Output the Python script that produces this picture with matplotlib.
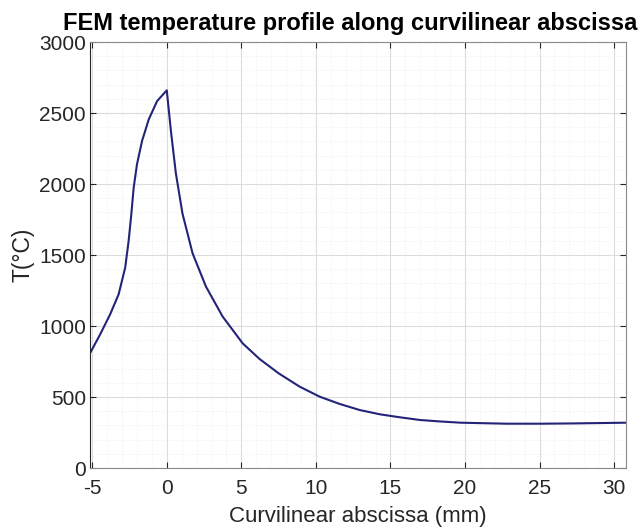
import numpy as np
import matplotlib
matplotlib.use("Agg")
import matplotlib.pyplot as plt
from matplotlib.ticker import MultipleLocator

# values
abscissa_mm = [-5.15, -4.47, -3.80, -3.23, -2.79, -2.56, -2.38, -2.22, -2.0, -1.66,
               -1.21, -0.65, 0.0, 0.27, 0.61, 1.05, 1.73, 2.63, 3.75, 5.09,
               6.22, 7.5, 8.91, 10.26, 11.6, 12.95, 14.3, 15.64, 16.99, 18.3,
               19.7, 20.6, 22.8, 25.1, 27.3, 30.8]
temperature_c = [808, 941, 1082, 1223, 1411, 1598, 1786, 1974, 2138, 2303,
                 2455, 2584, 2660, 2380, 2075, 1793, 1512, 1277, 1066, 878,
                 768, 667, 573, 502, 451, 408, 378, 357, 338, 328,
                 319, 317, 312, 312, 314, 319]
x_ticks = [-5, 0, 5, 10, 15, 20, 25, 30]
y_ticks = [0, 500, 1000, 1500, 2000, 2500, 3000]

plt.rcParams['font.family'] = ['Liberation Sans', 'DejaVu Sans']
plt.rcParams['axes.unicode_minus'] = False

fig = plt.figure(figsize=(6.41, 5.32), dpi=100)
ax = fig.add_axes([0.1404, 0.1203, 0.8362, 0.8007])

ax.plot(abscissa_mm, temperature_c, color='#23237a', lw=1.5)

ax.set_xlim(-5.15, 30.8)
ax.set_ylim(0, 3000)
ax.set_xticks(x_ticks)
ax.set_yticks(y_ticks)
ax.xaxis.set_minor_locator(MultipleLocator(1))
ax.yaxis.set_minor_locator(MultipleLocator(100))

ax.grid(which='major', color='#dcdcdc', lw=0.8)
ax.grid(which='minor', color='#ececec', lw=0.6, ls=':')
ax.set_axisbelow(True)

ax.tick_params(which='major', direction='in', length=4, width=0.8,
               top=True, right=True, labelsize=15, colors='#262626')
ax.tick_params(axis='x', pad=8)
ax.tick_params(axis='y', pad=3)
ax.tick_params(which='minor', length=0)
for sp in ax.spines.values():
    sp.set_color('#8a8a8a')
    sp.set_linewidth(0.8)
ax.spines['left'].set_color('#262626')

ax.set_xlabel('Curvilinear abscissa (mm)', fontsize=16, color='#262626', labelpad=6)
ax.set_ylabel('T(°C)', fontsize=16.5, color='#262626', labelpad=3)
ax.set_title('FEM temperature profile along curvilinear abscissa',
             fontsize=17, fontweight='bold', pad=9, x=0.485)

fig.savefig('out.png', dpi=100)
